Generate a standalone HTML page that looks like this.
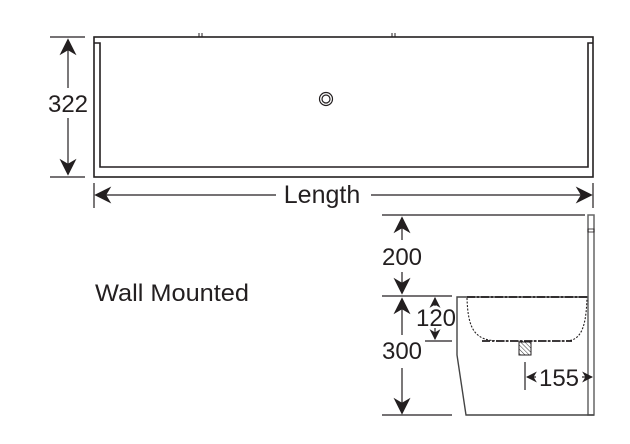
<!DOCTYPE html>
<html><head><style>html,body{margin:0;padding:0;background:#fff;}svg{display:block}text{font-family:"Liberation Sans",sans-serif;fill:#231f20}</style></head><body>
<svg width="630" height="444" viewBox="0 0 630 444" xmlns="http://www.w3.org/2000/svg">
<defs>
<marker id="a" viewBox="0 0 10 10" refX="9" refY="5" markerWidth="11" markerHeight="11" markerUnits="userSpaceOnUse" orient="auto"><path d="M0,0 L10,5 L0,10 L3,5 Z" fill="#231f20"/></marker>
<marker id="b" viewBox="0 0 10 10" refX="9" refY="5" markerWidth="17" markerHeight="17" markerUnits="userSpaceOnUse" orient="auto"><path d="M0,0 L10,5 L0,10 L3,5 Z" fill="#231f20"/></marker>
<pattern id="h" width="3" height="3" patternUnits="userSpaceOnUse" patternTransform="rotate(-45)"><line x1="0" y1="0" x2="0" y2="3" stroke="#333" stroke-width="1"/></pattern>
</defs>
<g stroke="#231f20" fill="none" stroke-width="1.6">
<rect x="94" y="37" width="499" height="140"/>
<path d="M94,43 H100 V167 H588 V43 H593"/>
<path d="M199,33 V37 M202,33 V37 M392,33 V37 M395,33 V37" stroke-width="1"/>
<circle cx="326" cy="99" r="6.5" stroke-width="1.2"/><circle cx="326" cy="99" r="4" stroke-width="1.2"/>
<path d="M50,37 H85 M50,177 H85" stroke-width="1.2"/>
<line x1="68" y1="88" x2="68" y2="40" marker-end="url(#b)" stroke-width="1.2"/>
<line x1="68" y1="118" x2="68" y2="174" marker-end="url(#b)" stroke-width="1.2"/>
<path d="M94,183 V208 M593,183 V208" stroke-width="1.2"/>
<line x1="276" y1="195" x2="96" y2="195" marker-end="url(#b)" stroke-width="1.2"/>
<line x1="371" y1="195" x2="591" y2="195" marker-end="url(#b)" stroke-width="1.2"/>
<path d="M382,215 H585 M382,296 H452 M425,341 H452 M382,415 H452" stroke-width="1.2"/>
<rect x="588" y="215" width="6" height="200" stroke="#666" stroke-width="1.5"/>
<rect x="588" y="229" width="6" height="3" stroke-width="0.8"/>
<path d="M588,297 H457 V355 L466,415 H594" stroke="#444" stroke-width="1.4"/>
<path d="M467,297 H588" stroke-dasharray="8,2,2,2" stroke-width="1.8"/>
<path d="M467,298 C468,330 475,341 500,341 H565 C580,341 586,330 587,298" stroke-dasharray="2,1.5" stroke-width="1.1"/>
<path d="M482,341 H572" stroke-dasharray="8,2,2,2" stroke-width="1.8"/>
<rect x="519" y="342" width="12" height="13" fill="url(#h)" stroke-width="1"/>
<line x1="525" y1="362" x2="525" y2="390" stroke-width="1.2"/>
<line x1="402" y1="240" x2="402" y2="218" marker-end="url(#b)" stroke-width="1.2"/>
<line x1="402" y1="272" x2="402" y2="293" marker-end="url(#b)" stroke-width="1.2"/>
<line x1="402" y1="335" x2="402" y2="299" marker-end="url(#b)" stroke-width="1.2"/>
<line x1="402" y1="368" x2="402" y2="413" marker-end="url(#b)" stroke-width="1.2"/>
<line x1="435" y1="306" x2="435" y2="298" marker-end="url(#a)" stroke-width="1.2"/>
<line x1="435" y1="328" x2="435" y2="339" marker-end="url(#a)" stroke-width="1.2"/>
<line x1="536" y1="377" x2="527" y2="377" marker-end="url(#a)" stroke-width="1.2"/>
<line x1="582" y1="377" x2="592" y2="377" marker-end="url(#a)" stroke-width="1.2"/>
</g>
<text x="68" y="112" font-size="24" text-anchor="middle">322</text>
<text x="322" y="203" font-size="25" text-anchor="middle">Length</text>
<text x="95" y="301" font-size="24" textLength="154" lengthAdjust="spacingAndGlyphs">Wall Mounted</text>
<text x="402" y="265" font-size="24" text-anchor="middle">200</text>
<text x="402" y="359" font-size="24" text-anchor="middle">300</text>
<text x="436" y="326" font-size="24" text-anchor="middle">120</text>
<text x="559" y="386" font-size="24" text-anchor="middle">155</text>
</svg>
</body></html>
